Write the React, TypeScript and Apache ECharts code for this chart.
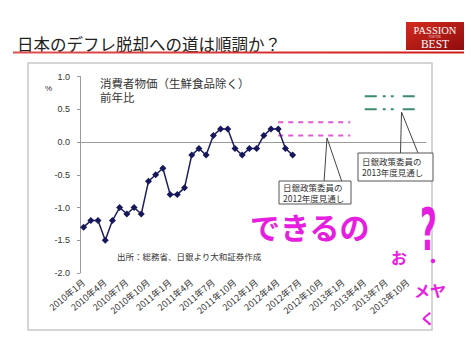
import React, { useEffect, useRef } from "react";
import * as echarts from "echarts";

// Monthly categories 2010年1月 .. 2013年12月
const years = [2010, 2011, 2012, 2013];
const months = [1, 2, 3, 4, 5, 6, 7, 8, 9, 10, 11, 12];
const categories: string[] = [];
years.forEach((y) => months.forEach((m) => categories.push(`${y}年${m}月`)));

// CPI (excl. fresh food), y/y %, 2010年1月 .. 2012年6月
const cpiValues = [
  -1.3, -1.2, -1.2, -1.5, -1.2, -1.0, -1.1, -1.0, -1.1, -0.6, -0.5, -0.4,
  -0.8, -0.8, -0.7, -0.2, -0.1, -0.2, 0.1, 0.2, 0.2, -0.1, -0.2, -0.1,
  -0.1, 0.1, 0.2, 0.2, -0.1, -0.2,
];

// BoJ policy board outlooks
const boj2012Months = ["2012年4月", "2013年2月"];
const boj2012Range = [0.1, 0.3];
const boj2013Months = ["2013年4月", "2013年11月"];
const boj2013Range = [0.5, 0.7];

const yTicks = { min: -2.0, max: 1.0, interval: 0.5 };

const JP = "'Noto Sans CJK JP', 'Noto Sans', sans-serif";

export default function App() {
  const ref = useRef<HTMLDivElement>(null);
  useEffect(() => {
    const chart = echarts.init(ref.current!, null, { renderer: "svg" });
    const pink = "#e25ad2";
    const green = "#3d8c6c";
    const magenta = "#e61ee0";
    const fcLine = (monthsArr: string[], v: number, color: string, dash: number[]) => ({
      type: "line",
      data: monthsArr.map((m) => [m, v]),
      showSymbol: false,
      symbol: "none",
      lineStyle: { color, width: 2, type: dash },
      z: 3,
      silent: true,
    });
    const txt = (x: number, y: number, text: string, fontSize: number, extra: any = {}) => ({
      type: "text",
      x,
      y,
      style: { text, fontSize, lineHeight: fontSize, fill: "#333", fontFamily: JP, ...extra },
      z: 9,
    });
    chart.setOption({
      animation: false,
      backgroundColor: "#ffffff",
      textStyle: { fontFamily: JP },
      grid: { left: 80, top: 76.5, width: 346, height: 196.5, containLabel: false },
      xAxis: {
        type: "category",
        data: categories,
        boundaryGap: true,
        axisLine: { lineStyle: { color: "#9a9a9a", width: 1 } },
        axisTick: { interval: 2, inside: true, length: 3, lineStyle: { color: "#9a9a9a" } },
        axisLabel: {
          interval: 2,
          rotate: 40,
          fontSize: 9,
          color: "#333",
          margin: 8,
          fontFamily: JP,
        },
      },
      yAxis: {
        type: "value",
        min: yTicks.min,
        max: yTicks.max,
        interval: yTicks.interval,
        splitLine: { show: false },
        axisLine: { show: true, lineStyle: { color: "#9a9a9a", width: 1 } },
        axisTick: { show: true, length: 3, lineStyle: { color: "#9a9a9a" } },
        axisLabel: {
          fontSize: 9,
          color: "#333",
          margin: 10,
          formatter: (v: number) => v.toFixed(1),
          fontFamily: "'Liberation Sans', Arial, sans-serif",
        },
      },
      series: [
        {
          type: "line",
          data: cpiValues,
          symbol: "diamond",
          symbolSize: 7,
          showSymbol: true,
          showAllSymbol: true,
          itemStyle: { color: "#17175c" },
          lineStyle: { color: "#1c1c60", width: 1.5 },
          z: 4,
        },
        fcLine(boj2012Months, boj2012Range[1], pink, [5, 5]),
        fcLine(boj2012Months, boj2012Range[0], pink, [5, 5]),
        fcLine(boj2013Months, boj2013Range[1], green, [12, 6, 3, 5, 3, 9]),
        fcLine(boj2013Months, boj2013Range[0], green, [12, 6, 3, 5, 3, 9]),
      ],
      graphic: [
        // outer frame of chart
        {
          type: "rect",
          shape: { x: 28, y: 63, width: 404, height: 267 },
          style: { fill: "none", stroke: "#c8c8c8", lineWidth: 1.5 },
          z: 0,
          silent: true,
        },
        // title
        {
          type: "text",
          left: 17,
          top: 36,
          style: { text: "日本のデフレ脱却への道は順調か？", fontSize: 16.5, fill: "#222", fontFamily: JP },
          z: 5,
        },
        {
          type: "rect",
          shape: { x: 13, y: 51.5, width: 451, height: 2 },
          style: {
            fill: new echarts.graphic.LinearGradient(0, 0, 1, 0, [
              { offset: 0, color: "#e05050" },
              { offset: 1, color: "#d01818" },
            ]),
          },
          z: 5,
        },
        // logo
        {
          type: "rect",
          shape: { x: 406, y: 22, width: 58, height: 28 },
          style: {
            fill: new echarts.graphic.LinearGradient(0, 0, 1, 1, [
              { offset: 0, color: "#d42a1e" },
              { offset: 1, color: "#8e0c0c" },
            ]),
          },
          z: 6,
        },
        {
          type: "text",
          x: 435,
          y: 30,
          style: {
            text: "PASSION",
            fontSize: 10.5,
            fill: "#fff",
            fontFamily: "'Liberation Serif', 'DejaVu Serif', serif",
            align: "center",
            verticalAlign: "middle",
          },
          z: 7,
        },
        {
          type: "text",
          x: 435,
          y: 36.5,
          style: {
            text: "FOR THE",
            fontSize: 3,
            fill: "#f4d0d0",
            fontFamily: "'Liberation Serif', serif",
            align: "center",
            verticalAlign: "middle",
          },
          z: 7,
        },
        {
          type: "text",
          x: 435,
          y: 43.5,
          style: {
            text: "BEST",
            fontSize: 11.5,
            fill: "#fff",
            fontFamily: "'Liberation Serif', 'DejaVu Serif', serif",
            align: "center",
            verticalAlign: "middle",
          },
          z: 7,
        },
        // % unit
        txt(45, 84, "%", 8, { fontFamily: "'Liberation Sans', sans-serif" }),
        // chart caption
        txt(100, 77.5, "消費者物価（生鮮食品除く）", 11.5),
        txt(100, 91, "前年比", 11.5),
        // source
        txt(117, 252, "出所：総務省、日銀より大和証券作成", 8.5),
        // callout 2012
        {
          type: "polyline",
          shape: { points: [[324, 182], [327, 138], [342, 182]] },
          style: { stroke: "#444", lineWidth: 1, fill: "none" },
          z: 8,
        },
        {
          type: "rect",
          shape: { x: 279, y: 181, width: 72, height: 23 },
          style: { fill: "#fff", stroke: "#555", lineWidth: 1 },
          z: 8,
        },
        txt(283, 182.5, "日銀政策委員の", 8.5),
        txt(283, 193.5, "2012年度見通し", 8.5),
        // callout 2013
        {
          type: "polyline",
          shape: { points: [[400.5, 153], [401.5, 112], [418, 153]] },
          style: { stroke: "#444", lineWidth: 1, fill: "none" },
          z: 8,
        },
        {
          type: "rect",
          shape: { x: 358, y: 153, width: 75, height: 28 },
          style: { fill: "#fff", stroke: "#555", lineWidth: 1 },
          z: 8,
        },
        txt(362, 157, "日銀政策委員の", 8.5),
        txt(362, 168, "2013年度見通し", 8.5),
        // handwritten scribbles
        txt(250, 211, "できるの", 30, { fill: magenta, fontWeight: "bold" }),
        txt(391, 249, "お", 16, { fill: magenta, fontWeight: "bold" }),
        {
          type: "text",
          x: 420,
          y: 201,
          scaleX: 0.5,
          style: {
            text: "?",
            fontSize: 58,
            lineHeight: 58,
            fill: magenta,
            fontWeight: "bold",
            fontFamily: "'DejaVu Sans', sans-serif",
          },
          z: 10,
        },
        {
          type: "circle",
          shape: { cx: 433, cy: 261, r: 2.2 },
          style: { fill: magenta },
          z: 10,
        },
        txt(414, 282, "メヤ", 16, { fill: magenta, fontWeight: "bold" }),
        txt(420, 310, "く", 15, { fill: magenta, fontWeight: "bold" }),
      ],
    });
    return () => chart.dispose();
  }, []);
  return <div ref={ref} style={{ width: 471, height: 360, position: "absolute", left: 0, top: 0 }} />;
}
